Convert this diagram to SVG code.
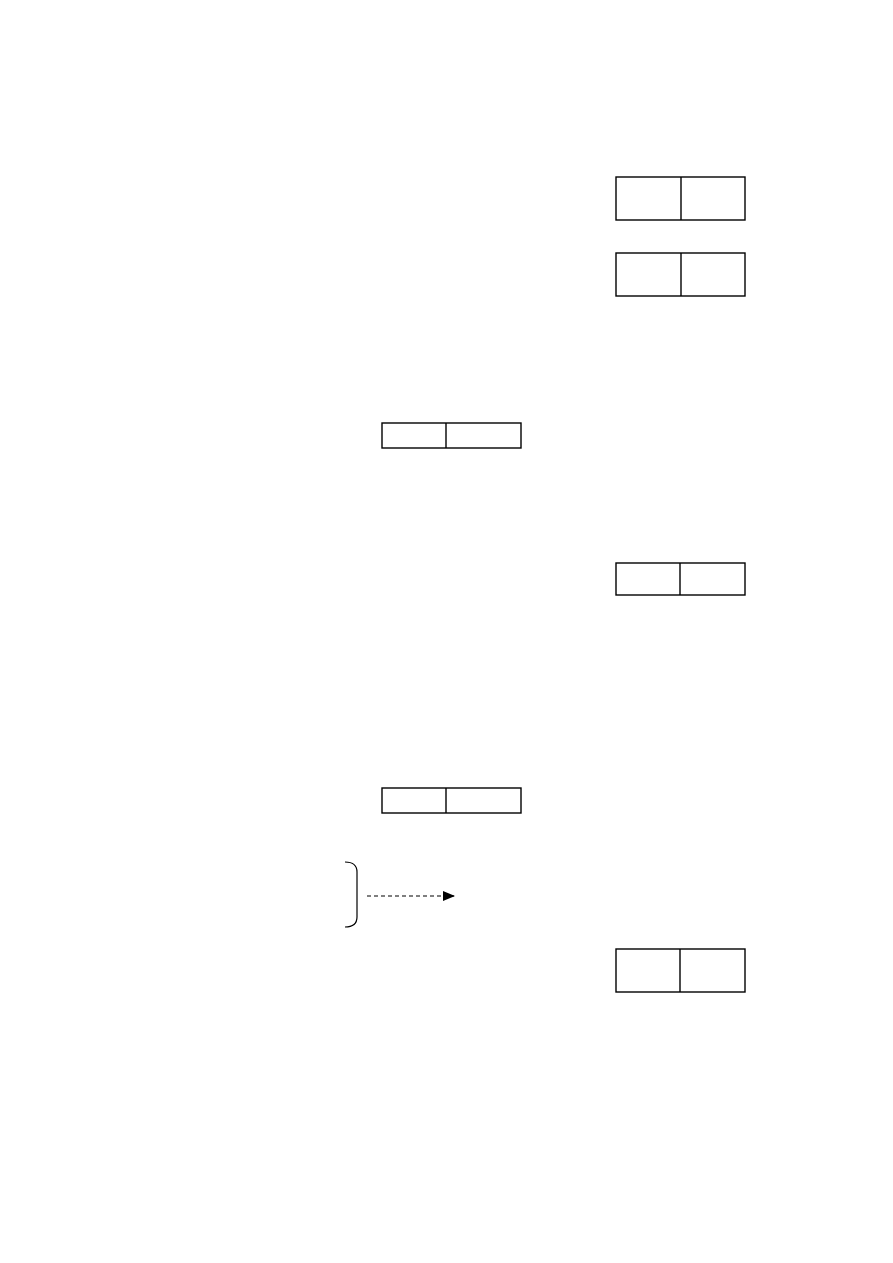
<svg xmlns="http://www.w3.org/2000/svg" width="893" height="1263" viewBox="0 0 893 1263">
<style>
.box{fill:#fff;stroke:#000;stroke-width:1.4}
.div{stroke:#000;stroke-width:1.4}
.conn{fill:none;stroke:#000;stroke-width:1.2}
</style>
<defs>
<marker id="arr" markerWidth="12" markerHeight="10" refX="11" refY="5" orient="auto" markerUnits="userSpaceOnUse">
<path d="M0,0 L12,5 L0,10 Z" fill="#000"/>
</marker>
</defs>
<rect width="893" height="1263" fill="#fff"/>
<g id="node1"><rect class="box" x="616" y="177" width="129" height="43"/><line class="div" x1="681" y1="177" x2="681" y2="220"/></g>
<g id="node2"><rect class="box" x="616" y="253" width="129" height="43"/><line class="div" x1="681" y1="253" x2="681" y2="296"/></g>
<g id="node3"><rect class="box" x="382" y="423" width="139" height="25"/><line class="div" x1="446" y1="423" x2="446" y2="448"/></g>
<g id="node4"><rect class="box" x="616" y="563" width="129" height="32"/><line class="div" x1="680" y1="563" x2="680" y2="595"/></g>
<g id="node5"><rect class="box" x="382" y="788" width="139" height="25"/><line class="div" x1="446" y1="788" x2="446" y2="813"/></g>
<g id="node6"><rect class="box" x="616" y="949" width="129" height="43"/><line class="div" x1="680" y1="949" x2="680" y2="992"/></g>
<g id="bracket"><path class="conn" d="M345,862 Q357,862 357,872 L357,917 Q357,927 345,927"/></g>
<g id="connectors">
<line class="conn" x1="367" y1="896" x2="454" y2="896" stroke-dasharray="4,3" marker-end="url(#arr)"/>
</g>
</svg>
